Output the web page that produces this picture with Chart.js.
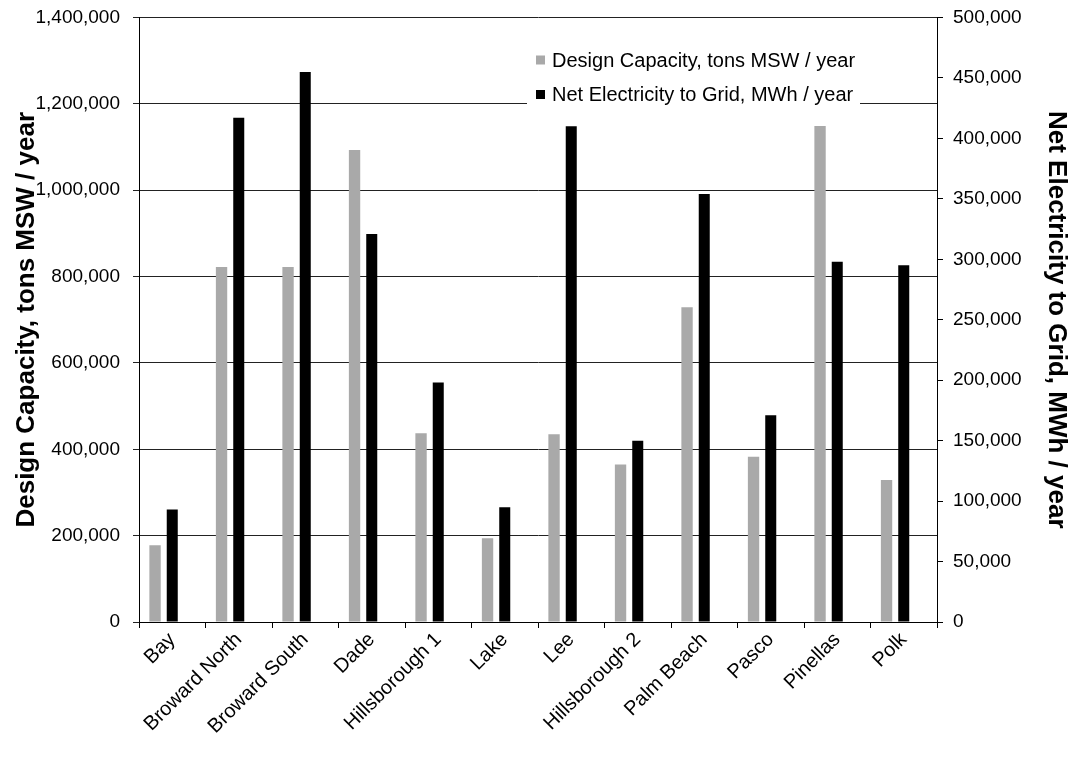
<!DOCTYPE html>
<html>
<head>
<meta charset="utf-8">
<script src="https://cdn.jsdelivr.net/npm/chart.js@4.4.1/dist/chart.umd.min.js"></script>
<style>
  html, body { margin: 0; padding: 0; background: #ffffff; }
  #wrap { width: 1072px; height: 759px; }
</style>
</head>
<body>
<div id="wrap"><canvas id="chart" width="1072" height="759"></canvas></div>
<script>
// Florida waste-to-energy facilities
const facilities = [
  'Bay', 'Broward North', 'Broward South', 'Dade', 'Hillsborough 1', 'Lake',
  'Lee', 'Hillsborough 2', 'Palm Beach', 'Pasco', 'Pinellas', 'Polk'
];

// Design capacity, tons MSW per year (left axis)
const designCapacity = [
  178000, 822000, 822000, 1093000, 437000, 194000,
  435000, 365000, 729000, 383000, 1149000, 329000
];

// Net electricity delivered to the grid, MWh per year (right axis)
const netElectricity = [
  93000, 417000, 455000, 321000, 198000, 95000,
  410000, 150000, 354000, 171000, 298000, 295000
];

// Empty third series slot (keeps the bar pair to the left of each category)
const spareSeries = facilities.map(() => null);

const capacityTicks = { min: 0, max: 1400000, step: 200000 };
const electricityTicks = { min: 0, max: 500000, step: 50000 };

const capacityLabel = 'Design Capacity, tons MSW / year';
const electricityLabel = 'Net Electricity to Grid, MWh / year';

const FONT = "'Liberation Sans', Arial, Helvetica, sans-serif";
const fmt = v => Number(v).toLocaleString('en-US');

// Legend drawn as a boxed list inside the upper right of the plot
const insideLegend = {
  id: 'insideLegend',
  afterDraw(chart) {
    const ctx = chart.ctx;
    const area = chart.chartArea;
    const items = chart.data.datasets.filter(d => d.showInLegend);
    const boxRight = area.right - 77;
    const boxLeft = boxRight - 333;
    const boxTop = area.top + 8;
    const rowGap = 34.5;
    ctx.save();
    ctx.fillStyle = '#ffffff';
    ctx.fillRect(boxLeft, boxTop, boxRight - boxLeft, 86);
    ctx.font = '20px ' + FONT;
    ctx.textBaseline = 'middle';
    ctx.textAlign = 'left';
    items.forEach((d, i) => {
      const cy = area.top + 42.5 + i * rowGap;
      ctx.fillStyle = d.backgroundColor;
      ctx.fillRect(boxLeft + 9, cy - 4.5, 9, 9);
      ctx.fillStyle = '#000000';
      ctx.fillText(d.label, boxLeft + 25, cy + 1);
    });
    ctx.restore();
  }
};

// Axis boxes have fixed sizes; edge label overhang is absorbed by the layout padding
function fixVertical(width) {
  return scale => {
    scale.width = width;
    scale.paddingTop = 0;
    scale.paddingBottom = 0;
  };
}

new Chart(document.getElementById('chart'), {
  type: 'bar',
  data: {
    labels: facilities,
    datasets: [
      {
        label: capacityLabel,
        data: designCapacity,
        yAxisID: 'y',
        backgroundColor: '#a9a9a9',
        showInLegend: true,
        categoryPercentage: 0.776,
        barPercentage: 0.66
      },
      {
        label: electricityLabel,
        data: netElectricity,
        yAxisID: 'y1',
        backgroundColor: '#000000',
        showInLegend: true,
        categoryPercentage: 0.776,
        barPercentage: 0.64
      },
      {
        label: '',
        data: spareSeries,
        yAxisID: 'y',
        backgroundColor: 'rgba(0,0,0,0)',
        showInLegend: false,
        categoryPercentage: 0.776,
        barPercentage: 0.64
      }
    ]
  },
  options: {
    responsive: false,
    animation: false,
    devicePixelRatio: 1,
    layout: { padding: { top: 17.5, left: 0, right: 0, bottom: 0 } },
    plugins: {
      legend: { display: false },
      tooltip: { enabled: false }
    },
    scales: {
      x: {
        type: 'category',
        offset: true,
        grid: {
          offset: true,
          drawOnChartArea: false,
          drawTicks: true,
          tickLength: 6,
          color: '#000000'
        },
        border: { display: true, color: '#000000', width: 1 },
        ticks: {
          color: '#000000',
          font: { family: FONT, size: 20 },
          minRotation: 45,
          maxRotation: 45,
          autoSkip: false,
          padding: 0
        },
        afterFit(scale) {
          scale.height = 137;
          scale.paddingLeft = 0;
          scale.paddingRight = 0;
        }
      },
      y: {
        type: 'linear',
        position: 'left',
        min: capacityTicks.min,
        max: capacityTicks.max,
        grid: { color: '#222222', lineWidth: 1, tickLength: 6 },
        border: { display: true, color: '#000000', width: 1 },
        ticks: {
          stepSize: capacityTicks.step,
          color: '#000000',
          padding: 13,
          font: { family: FONT, size: 19 },
          callback: v => fmt(v)
        },
        title: {
          display: true,
          text: capacityLabel,
          color: '#000000',
          font: { family: FONT, size: 26, weight: 'bold', lineHeight: 1.2 },
          padding: { top: 11, bottom: 0 }
        },
        afterFit: fixVertical(139)
      },
      y1: {
        type: 'linear',
        position: 'right',
        min: electricityTicks.min,
        max: electricityTicks.max,
        grid: { drawOnChartArea: false, color: '#000000', tickLength: 6 },
        border: { display: true, color: '#000000', width: 1 },
        ticks: {
          stepSize: electricityTicks.step,
          color: '#000000',
          padding: 10,
          font: { family: FONT, size: 19 },
          callback: v => fmt(v)
        },
        title: {
          display: true,
          text: electricityLabel,
          color: '#000000',
          font: { family: FONT, size: 26, weight: 'bold', lineHeight: 1.2 },
          padding: { top: 0, bottom: 0 }
        },
        afterFit: fixVertical(135)
      }
    }
  },
  plugins: [insideLegend]
});
</script>
</body>
</html>
